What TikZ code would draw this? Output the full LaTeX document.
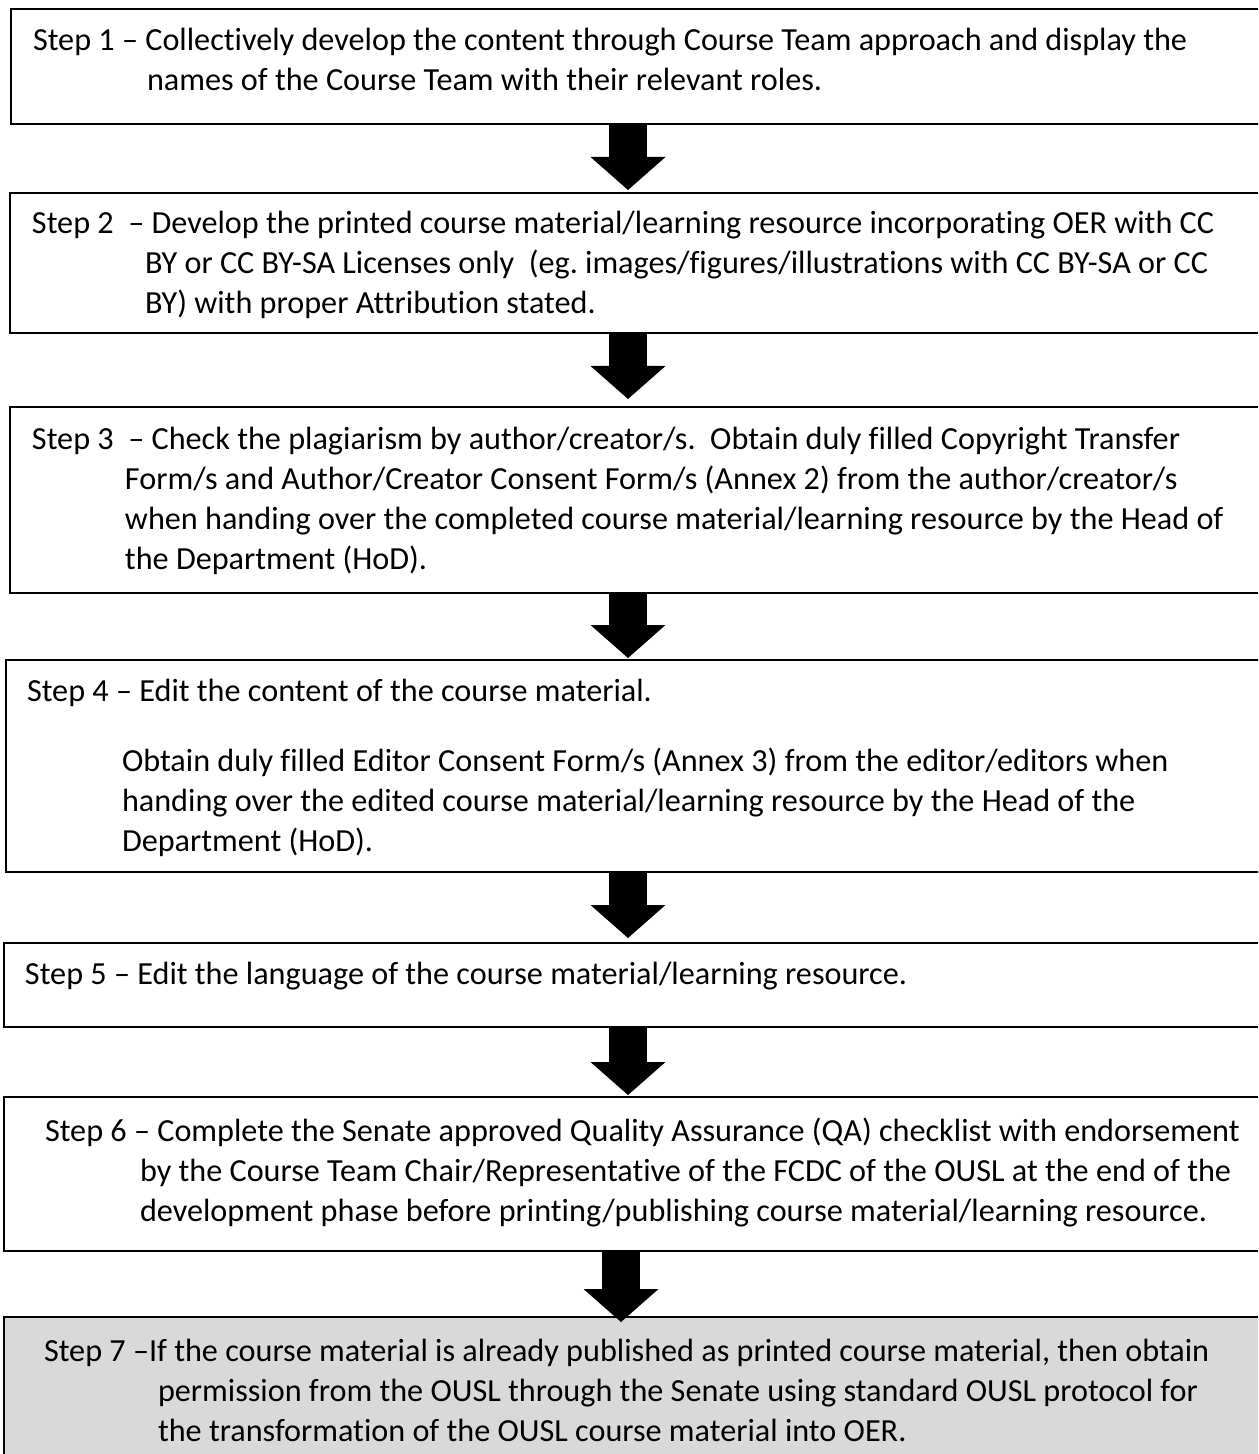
\documentclass[tikz,border=0pt]{standalone}
\usepackage{fontspec}
\setmainfont{Carlito}[Ligatures={TeX,NoCommon}]
\usetikzlibrary{arrows.meta,fit}
\definecolor{stepgray}{RGB}{217,217,217}
\newcommand\stepstrut{\rule{0pt}{15pt}}
\frenchspacing
\tikzset{
  stepbox/.style={draw=black,line width=1pt,inner sep=0pt,outer sep=0pt},
  steptext/.style={anchor=north west,inner sep=0pt,outer sep=0pt,align=left,font=\fontsize{16.1}{20}\selectfont},
  bigarrow/.style={line width=19pt,-{Triangle[width=37.5pt,length=16.5pt,line width=0pt]}},
}
\begin{document}
\begin{tikzpicture}[x=0.5pt,y=-0.5pt]
	\useasboundingbox (0,0) rectangle (1258,1454);
	\clip (0,0) rectangle (1258,1454);
	% boxes
	\node[stepbox,fit={(11,9) (1275,124)}] (s1) {};
	\node[stepbox,fit={(10,193) (1275,333)}] (s2) {};
	\node[stepbox,fit={(10,407) (1275,593)}] (s3) {};
	\node[stepbox,fit={(6,660) (1275,872)}] (s4) {};
	\node[stepbox,fit={(4,943) (1275,1027)}] (s5) {};
	\node[stepbox,fit={(4,1097) (1275,1251)}] (s6) {};
	\node[stepbox,fill=stepgray,fit={(4,1317) (1275,1480)}] (s7) {};
	% texts
	\node[steptext] (t1) at (33,21) {\stepstrut Step 1 – Collectively develop the content through Course Team approach and display the\\
		\hspace*{57pt}names of the Course Team with their relevant roles.};
	\node[steptext] (t2) at (32,204) {\stepstrut Step 2\ \ – Develop the printed course material/learning resource incorporating OER with CC\\
		\hspace*{56.5pt}BY or CC BY-SA Licenses only\ \ (eg. images/figures/illustrations with CC BY-SA or CC\\
		\hspace*{56.5pt}BY) with proper Attribution stated.};
	\node[steptext] (t3) at (32,419) {\stepstrut Step 3\ \ – Check the plagiarism by author/creator/s.\ \ Obtain duly filled Copyright Transfer\\
		\hspace*{46.5pt}Form/s and Author/Creator Consent Form/s (Annex 2) from the author/creator/s\\
		\hspace*{46.5pt}when handing over the completed course material/learning resource by the Head of\\
		\hspace*{46.5pt}the Department (HoD).};
	\node[steptext] (t4) at (27,671) {\stepstrut Step 4 – Edit the content of the course material.\\[15pt]
		\hspace*{47.5pt}Obtain duly filled Editor Consent Form/s (Annex 3) from the editor/editors when\\
		\hspace*{47.5pt}handing over the edited course material/learning resource by the Head of the\\
		\hspace*{47.5pt}Department (HoD).};
	\node[steptext] (t5) at (25,954) {\stepstrut Step 5 – Edit the language of the course material/learning resource.};
	\node[steptext] (t6) at (45,1111) {\stepstrut Step 6 – Complete the Senate approved Quality Assurance (QA) checklist with endorsement\\
		\hspace*{47.5pt}by the Course Team Chair/Representative of the FCDC of the OUSL at the end of the\\
		\hspace*{47.5pt}development phase before printing/publishing course material/learning resource.};
	\node[steptext] (t7) at (44,1331) {\stepstrut Step 7 –If the course material is already published as printed course material, then obtain\\
		\hspace*{57pt}permission from the OUSL through the Senate using standard OUSL protocol for\\
		\hspace*{57pt}the transformation of the OUSL course material into OER.};
	% arrows
	\coordinate (ax) at (628,0);
	\coordinate (ay) at (621,0);
	\draw[bigarrow,shorten >=1.5pt] (s1.south -| ax) -- (s2.north -| ax);
	\draw[bigarrow,shorten >=4pt] (s2.south -| ax) -- (s3.north -| ax);
	\draw[bigarrow,shorten >=1pt] (s3.south -| ax) -- (s4.north -| ax);
	\draw[bigarrow,shorten >=2.5pt] (s4.south -| ax) -- (s5.north -| ax);
	\draw[bigarrow,shorten >=1pt] (s5.south -| ax) -- (s6.north -| ax);
	\draw[bigarrow,shorten >=-2.5pt] (s6.south -| ay) -- (s7.north -| ay);
\end{tikzpicture}
\end{document}
